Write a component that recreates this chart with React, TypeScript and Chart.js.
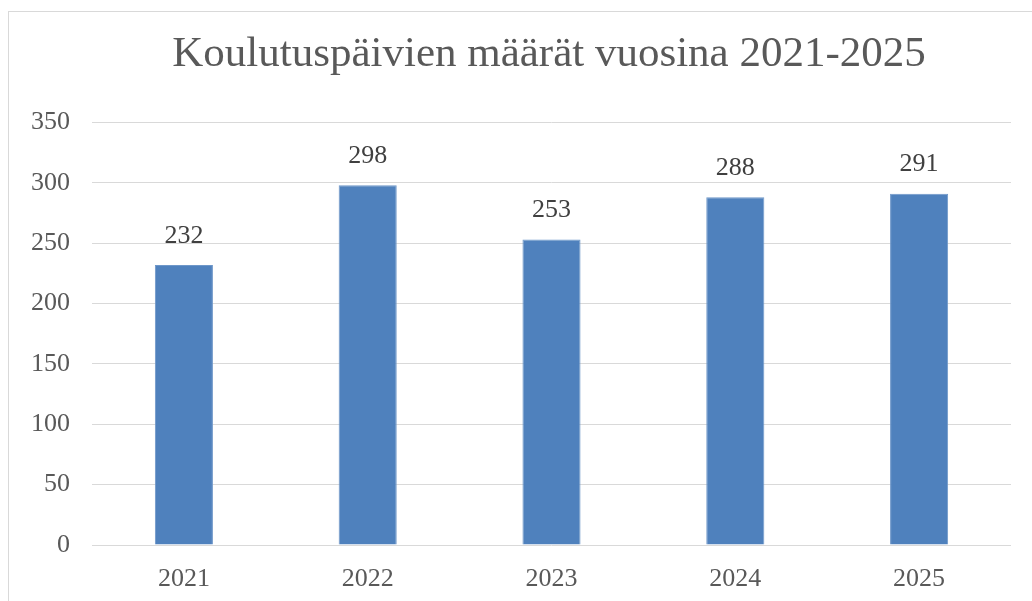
import React, { useEffect, useRef } from "react";
import { Chart, registerables } from "chart.js";

Chart.register(...registerables);

const categories = ["2021", "2022", "2023", "2024", "2025"];
const values = [232, 298, 253, 288, 291];
const yTicks = [0, 50, 100, 150, 200, 250, 300, 350];
const titleText = "Koulutuspäivien määrät vuosina 2021-2025";

const FONT = "'Liberation Serif', 'Times New Roman', serif";

const valueLabels = {
  id: "valueLabels",
  afterDatasetsDraw(chart: any) {
    const ctx = chart.ctx;
    const meta = chart.getDatasetMeta(0);
    ctx.save();
    ctx.font = `26px ${FONT}`;
    ctx.fillStyle = "#404040";
    ctx.textAlign = "center";
    ctx.textBaseline = "middle";
    meta.data.forEach((el: any, i: number) => {
      const v = chart.data.datasets[0].data[i];
      ctx.fillText(String(v), el.x, el.y - 29);
    });
    ctx.restore();
  },
};

export default function App() {
  const ref = useRef<HTMLCanvasElement | null>(null);
  useEffect(() => {
    if (!ref.current) return;
    const chart = new Chart(ref.current, {
      type: "bar",
      data: {
        labels: categories,
        datasets: [
          {
            data: values,
            backgroundColor: "#4F81BD",
            borderColor: "#6E97C9",
            borderWidth: 1,
            barPercentage: 0.316,
            categoryPercentage: 1,
          },
        ],
      },
      options: {
        animation: false,
        responsive: true,
        maintainAspectRatio: false,
        layout: { padding: { left: 0, right: 0, top: 0, bottom: 15 } },
        plugins: {
          legend: { display: false },
          tooltip: { enabled: false },
          title: {
            display: true,
            text: titleText,
            color: "#595959",
            font: { family: FONT, size: 43, weight: "normal" },
            padding: { top: 17, bottom: 41.8 },
          },
        },
        scales: {
          x: {
            grid: { display: false, drawTicks: false },
            border: { display: false },
            ticks: {
              color: "#595959",
              font: { family: FONT, size: 26 },
              padding: 19,
            },
            afterFit: (axis: any) => {
              axis.height = 60;
            },
          },
          y: {
            min: 0,
            max: 350,
            afterBuildTicks: (axis: any) => {
              axis.ticks = yTicks.map((v) => ({ value: v }));
            },
            afterFit: (axis: any) => {
              axis.width = 83;
            },
            grid: { color: "#d9d9d9", lineWidth: 1, drawTicks: false },
            border: { display: false },
            ticks: {
              color: "#595959",
              font: { family: FONT, size: 26 },
              padding: 22,
            },
          },
          spacer: {
            type: "linear",
            position: "right",
            display: true,
            grid: { display: false, drawTicks: false },
            border: { display: false },
            ticks: { display: false },
            afterFit: (axis: any) => {
              axis.width = 78;
            },
          },
        },
      },
      plugins: [valueLabels],
    });
    return () => chart.destroy();
  }, []);

  return (
    <div
      style={{
        position: "fixed",
        left: 8,
        top: 11,
        width: 1024,
        height: 590,
        overflow: "hidden",
        borderLeft: "1px solid #d9d9d9",
        borderTop: "1px solid #d9d9d9",
        background: "#fff",
      }}
    >
      <div style={{ position: "relative", width: 1080, height: 608 }}>
        <canvas ref={ref} />
      </div>
    </div>
  );
}
